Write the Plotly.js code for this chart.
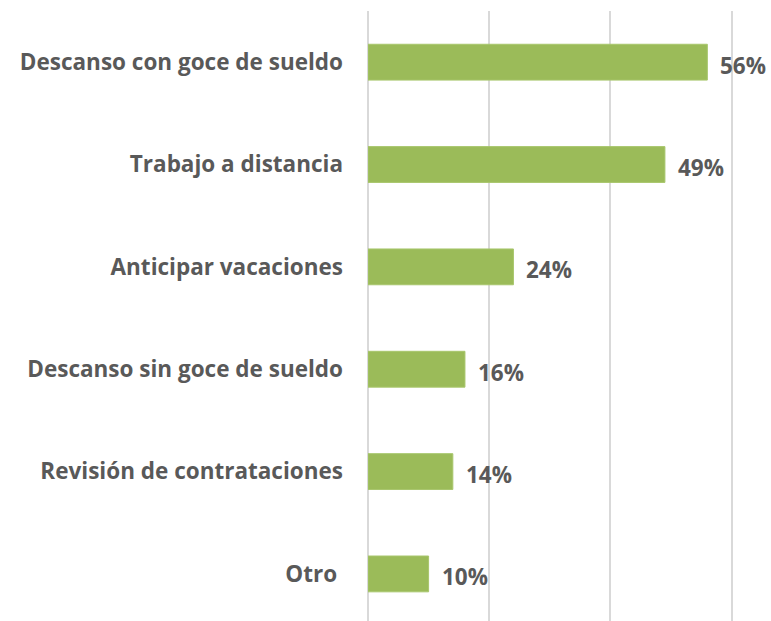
<!DOCTYPE html>
<html><head><meta charset="utf-8">
<script src="https://cdn.plot.ly/plotly-3.0.1.min.js"></script>
<style>html,body{margin:0;padding:0;background:#fff}#chart{width:771px;height:621px}</style>
</head><body><div id="chart"></div>
<script>
const categories = ["Descanso con goce de sueldo","Trabajo a distancia","Anticipar vacaciones","Descanso sin goce de sueldo","Revisión de contrataciones","Otro\u00a0"];
const values = [56, 49, 24, 16, 14, 10];
const valueLabels = values.map(v => v + "%");

const font = {family: "Open Sans, Noto Sans, sans-serif", size: 22.5, color: "#595959", weight: 700};

const trace = {
  type: "bar", orientation: "h",
  y: categories, x: values,
  marker: {color: "#9BBB59", line: {color: "#a8c66c", width: 1}},
  width: 0.35, hoverinfo: "skip"
};

const annotations = categories.map((c, i) => ({
  x: values[i], y: c, xref: "x", yref: "y",
  text: valueLabels[i], showarrow: false, xanchor: "left", yanchor: "middle",
  xshift: 11, yshift: -3, font: font
}));

const layout = {
  width: 771, height: 621,
  margin: {l: 368, r: 37, t: 11, b: 0},
  paper_bgcolor: "#fff", plot_bgcolor: "#fff",
  showlegend: false,
  xaxis: {range: [0, 60.4], tickvals: [0, 20, 40, 60], showticklabels: false, showgrid: true,
          gridcolor: "#d9d9d9", gridwidth: 2, zeroline: true, zerolinecolor: "#d9d9d9", zerolinewidth: 2,
          fixedrange: true},
  yaxis: {type: "category", categoryorder: "array", categoryarray: categories,
          range: [5.46, -0.5], showgrid: false, zeroline: false, showline: false,
          ticks: "", ticklabelstandoff: 24, tickfont: font, fixedrange: true},
  annotations: annotations
};

Plotly.newPlot("chart", [trace], layout, {displayModeBar: false, staticPlot: true});
</script></body></html>
